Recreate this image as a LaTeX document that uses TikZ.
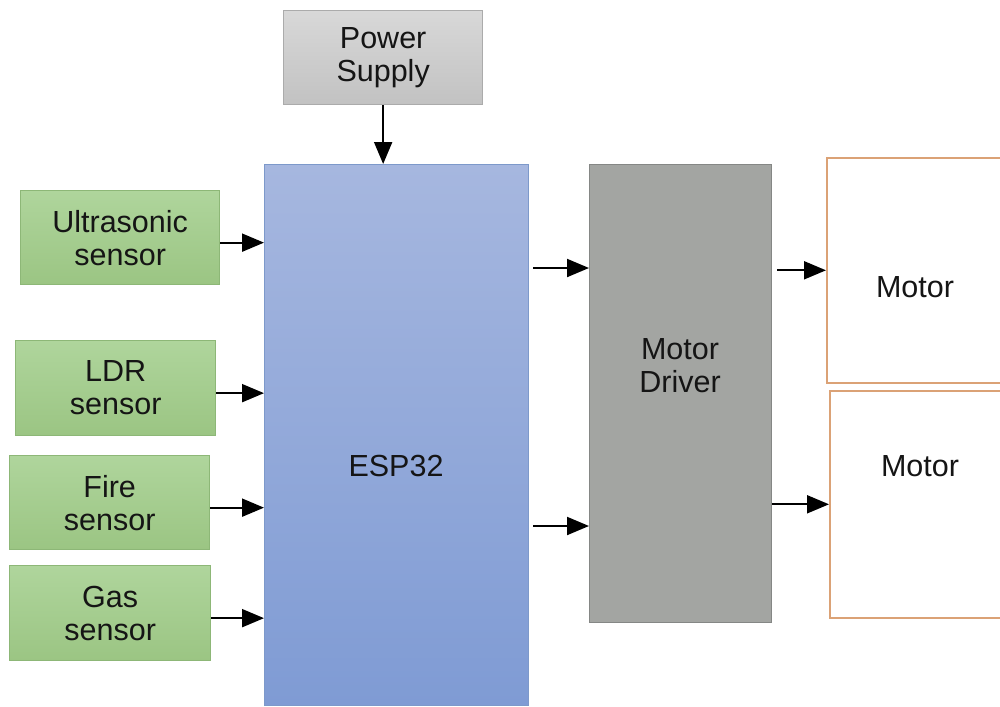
\documentclass[tikz,border=0pt]{standalone}
\usepackage{fontspec}
\setmainfont{Liberation Sans}
\usetikzlibrary{arrows.meta,calc}
\definecolor{sensorline}{HTML}{8DB777}
\definecolor{sensortop}{HTML}{AFD59C}
\definecolor{sensorbot}{HTML}{9BC583}
\definecolor{psline}{HTML}{ABABAB}
\definecolor{pstop}{HTML}{D8D8D8}
\definecolor{psbot}{HTML}{C2C2C2}
\definecolor{espline}{HTML}{7D99CA}
\definecolor{esptop}{HTML}{A6B7DF}
\definecolor{espbot}{HTML}{7F9BD4}
\definecolor{drvline}{HTML}{858785}
\definecolor{drvfill}{HTML}{A3A5A2}
\definecolor{motorline}{HTML}{DBA276}
\definecolor{ink}{HTML}{151515}

\begin{document}
\begin{tikzpicture}[x=1pt,y=-1pt,
  box/.style={draw,line width=1.3pt,inner sep=0pt,anchor=north west,align=center,
    text=ink,font=\fontsize{30.5}{33}\selectfont},
  sensor/.style={box,draw=sensorline,top color=sensortop,bottom color=sensorbot},
  motorbox/.style={box,draw=motorline,fill=white,line width=1.6pt},
  lbl/.style={align=center,text=ink,font=\fontsize{30.5}{33}\selectfont},
  arr/.style={line width=2pt,-{Triangle[length=22pt,width=18pt]}}]
  \clip (0,0) rectangle (1000,706);
  \fill[white] (0,0) rectangle (1000,706);
  % blocks
  \node[box,draw=psline,top color=pstop,bottom color=psbot,minimum width=199pt,minimum height=94pt] (ps) at (283,10) {Power\\Supply};
  \node[box,draw=espline,top color=esptop,bottom color=espbot,minimum width=264pt,minimum height=541pt] (esp) at (264,164) {};
  \node[lbl] (esptext) at (396,466) {ESP32};
  \node[sensor,minimum width=199pt,minimum height=94pt] (us) at (20,190) {Ultrasonic\\sensor};
  \node[sensor,minimum width=200pt,minimum height=95pt] (ldr) at (15,340) {LDR\\sensor};
  \node[sensor,minimum width=200pt,minimum height=94pt] (fire) at (9,455) {Fire\\sensor};
  \node[sensor,minimum width=201pt,minimum height=95pt] (gas) at (9,565) {Gas\\sensor};
  \node[box,draw=drvline,fill=drvfill,minimum width=182pt,minimum height=458pt] (drv) at (589,164) {};
  \node[lbl] (drvtext) at (680,366) {Motor\\Driver};
  \node[motorbox,minimum width=186pt,minimum height=225pt] (m1) at (826,157) {};
  \node[lbl] (m1text) at (915,287) {Motor};
  \node[motorbox,minimum width=183pt,minimum height=227pt] (m2) at (829,390) {};
  \node[lbl] (m2text) at (920,466) {Motor};
  \coordinate (in1) at (589,268);
  \coordinate (in2) at (589,526);
  % connections
  \draw[arr] (ps.south) -- (ps.south |- esp.north);
  \foreach \s in {us,ldr,fire,gas}
    {\draw[arr] ($(\s.east)+(0,5)$) -- ($(\s.east -| esp.west)+(0,5)$);}
  \draw[arr,shorten <=4pt] (in1 -| esp.east) -- (in1);
  \draw[arr,shorten <=4pt] (in2 -| esp.east) -- (in2);
  \draw[arr,shorten <=5pt] (m1.west -| drv.east) -- (m1.west);
  \draw[arr] (m2.west -| drv.east) -- (m2.west);
\end{tikzpicture}
\end{document}
